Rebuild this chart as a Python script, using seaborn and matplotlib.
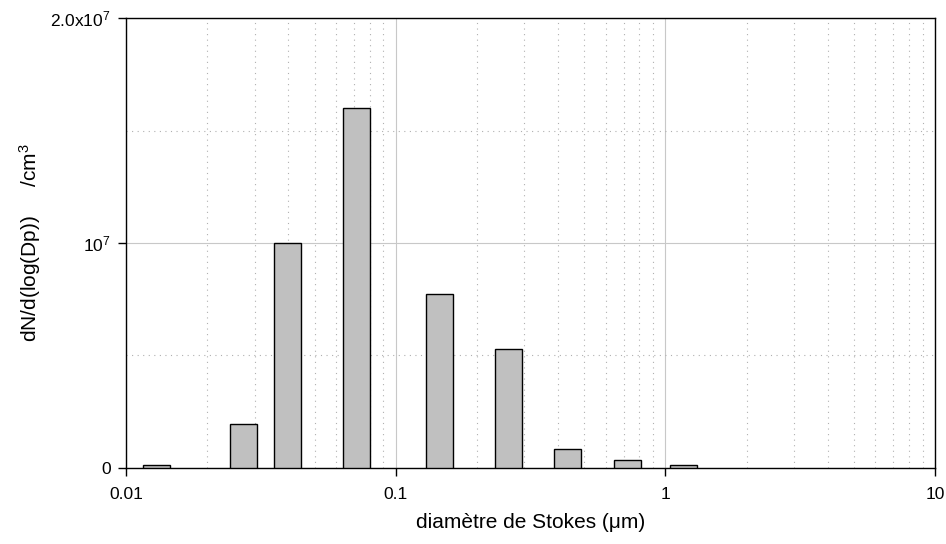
import numpy as np
import pandas as pd
import matplotlib
matplotlib.use("Agg")
import matplotlib.pyplot as plt
import matplotlib.ticker as mticker
import seaborn as sns

# diamètres (centres des étages, µm) et concentrations
diametres = [0.0130, 0.0273, 0.0398, 0.0714, 0.1455, 0.2623, 0.4329, 0.726, 1.171]
dN_dlogDp = [0.10e6, 1.92e6, 1.0e7, 1.6e7, 7.71e6, 5.26e6, 0.84e6, 0.32e6, 0.10e6]
x_ticks = [0.01, 0.1, 1, 10]
x_labels = ["0.01", "0.1", "1", "10"]
y_ticks = [0, 1e7, 2e7]
y_labels = ["0", "10$^7$", "2.0x10$^7$"]

df = pd.DataFrame({"Dp": diametres, "dN": dN_dlogDp})

sns.set_style("white")
plt.rcParams["font.family"] = ["Liberation Sans", "DejaVu Sans"]
plt.rcParams["mathtext.fontset"] = "custom"
plt.rcParams["mathtext.rm"] = "Liberation Sans"
plt.rcParams["mathtext.it"] = "Liberation Sans:italic"

fig = plt.figure(figsize=(9.46, 5.44), dpi=100)
ax = fig.add_axes([0.1332, 0.1406, 0.8552, 0.8258])
ax.set_xscale("log")

sns.barplot(data=df, x="Dp", y="dN", native_scale=True, width=0.607,
            color="#c0c0c0", saturation=1, edgecolor="black", linewidth=1,
            ax=ax, zorder=3)

ax.set_xlim(0.01, 10)
ax.set_ylim(0, 2e7)

# grille
ax.xaxis.set_minor_locator(mticker.LogLocator(base=10, subs=np.arange(2, 10)))
ax.yaxis.set_minor_locator(mticker.FixedLocator([5e6, 1.5e7]))
ax.xaxis.set_minor_formatter(mticker.NullFormatter())
ax.grid(True, which="major", color="#c8c8c8", linestyle="-", linewidth=0.8, zorder=0)
ax.grid(True, which="minor", color="#b0b0b0", linestyle=(0, (1, 4)), linewidth=0.8, zorder=0)
ax.set_axisbelow(True)

ax.set_xticks(x_ticks)
ax.set_xticklabels(x_labels)
ax.set_yticks(y_ticks)
ax.set_yticklabels(y_labels)
ax.tick_params(which="major", direction="out", length=6, width=1, colors="black",
               labelsize=12.5, bottom=True, left=True)
ax.tick_params(axis="x", pad=8)
ax.tick_params(axis="y", pad=5)
ax.tick_params(which="minor", length=0)

for s in ax.spines.values():
    s.set_color("black")
    s.set_linewidth(1)

ax.set_xlabel("diamètre de Stokes (μm)", fontsize=15, labelpad=8, color="black")
ax.set_ylabel("dN/d(log(Dp))     /cm$^3$", fontsize=15, labelpad=5, color="black")

fig.savefig("out.png", dpi=100)
